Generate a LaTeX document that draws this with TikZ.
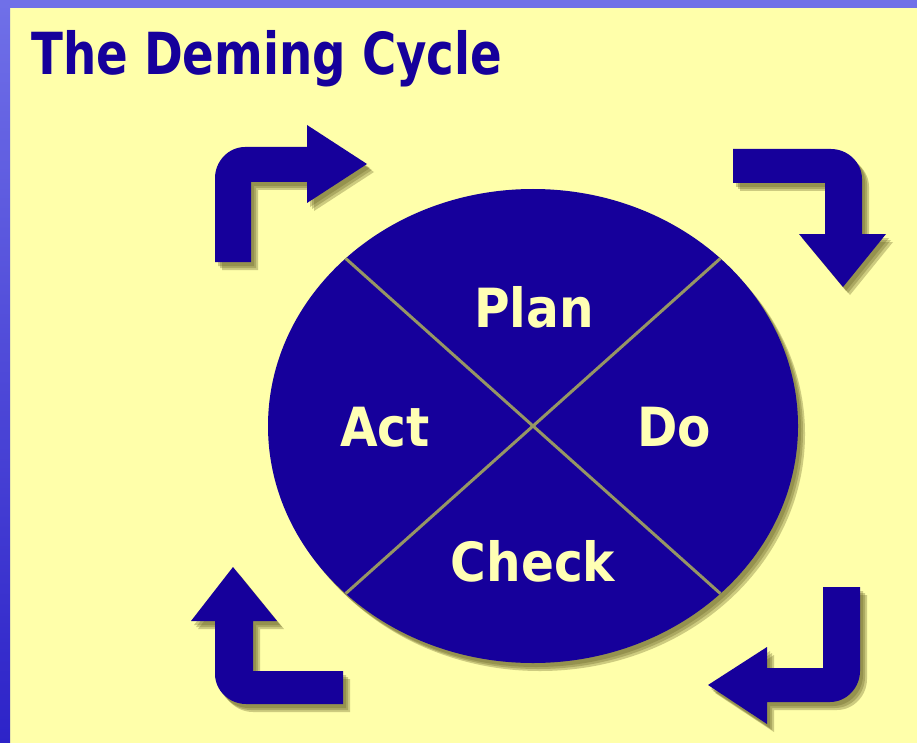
\documentclass[tikz,border=0pt]{standalone}
\usepackage{fontspec}
\setmainfont{DejaVu Sans}
\newfontfamily\tah{DejaVu Sans Condensed}
\usetikzlibrary{shapes.geometric}
\definecolor{bg}{RGB}{255,255,170}
\definecolor{ink}{RGB}{22,0,155}
\definecolor{pale}{RGB}{255,255,180}
\definecolor{divline}{RGB}{150,150,100}
\definecolor{shd}{RGB}{105,100,40}
\definecolor{frameA}{RGB}{112,112,232}
\definecolor{frameB}{RGB}{45,35,200}
\newcommand\arrTL[1]{\fill[#1] (215,262) -- (215,178) .. controls (215,161.4) and (228.4,147) .. (245,147) -- (307,147) -- (307,125) -- (367,164) -- (307,203) -- (307,182) -- (251,182) -- (251,262) -- cycle;}
\newcommand\arrTR[1]{\fill[#1] (733,149) -- (831,149) .. controls (847.6,149) and (862,162.4) .. (862,179) -- (862,234) -- (886,234) -- (843,287) -- (799,234) -- (825,234) -- (825,183) -- (733,183) -- cycle;}
\newcommand\arrBR[1]{\fill[#1] (823,587) -- (860,587) -- (860,671) .. controls (860,687.6) and (846.6,702) .. (830,702) -- (767,702) -- (767,724) -- (708,685) -- (767,647) -- (767,668) -- (823,668) -- cycle;}
\newcommand\arrBL[1]{\fill[#1] (233,567) -- (277,621) -- (253,621) -- (253,671) -- (343,671) -- (343,704) -- (246,704) .. controls (229.4,704) and (215,690.6) .. (215,674) -- (215,621) -- (191,621) -- cycle;}
\tikzset{
  lbl/.style={text=pale, inner sep=0, anchor=base, font=\tah\bfseries\fontsize{54}{56}\selectfont},
  shadowA/.style={shd, opacity=0.33, shift={(3,4)}},
  shadowB/.style={shd, opacity=0.33, shift={(5,6)}},
  shadowC/.style={shd, opacity=0.33, shift={(7,8)}},
}
\begin{document}
\begin{tikzpicture}[x=1pt,y=-1pt]
\useasboundingbox (0,0) rectangle (917,743);
\fill[bg] (0,0) rectangle (917,743);
\shade[top color=frameA, bottom color=frameB] (0,0) rectangle (10,743);
\fill[frameA] (0,0) rectangle (917,8);
% title
\node[anchor=base west, inner sep=0, text=ink, font=\tah\bfseries\fontsize{58}{60}\selectfont] (title) at (31,75) {\scalebox{0.895}[1]{The Deming Cycle}};
% shadows
\foreach \s in {shadowA,shadowB,shadowC}{
  \fill[\s] (533,426) ellipse [x radius=265, y radius=237];
  \arrTL{\s}
  \arrTR{\s}
  \arrBR{\s}
  \arrBL{\s}
}
% arrows
\arrTL{ink}
\arrTR{ink}
\arrBR{ink}
\arrBL{ink}
% cycle
\node[ellipse, fill=ink, minimum width=530pt, minimum height=474pt, inner sep=0] (cyc) at (533,426) {};
\coordinate (tl) at (345.6,258.4);
\coordinate (tr) at (720.4,258.4);
\coordinate (bl) at (345.6,593.6);
\coordinate (br) at (720.4,593.6);
\draw[divline, line width=3pt] (tl) -- (br);
\draw[divline, line width=3pt] (tr) -- (bl);
\node[lbl] (plan) at (534,327) {Plan};
\node[lbl] (do) at (674,446) {Do};
\node[lbl] (check) at (533,581) {Check};
\node[lbl] (act) at (385,446) {Act};
\end{tikzpicture}
\end{document}
